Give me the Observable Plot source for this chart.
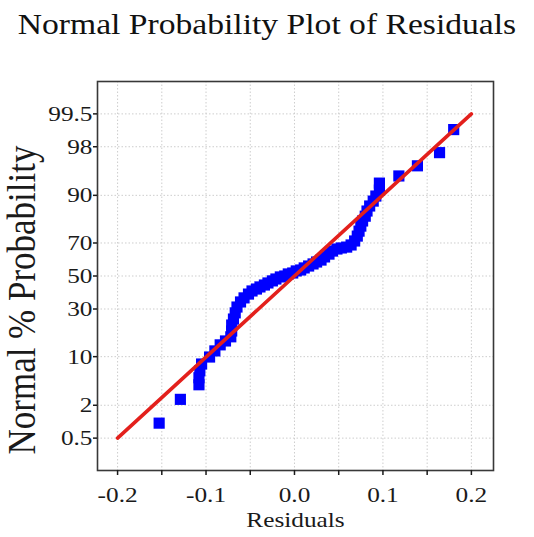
<!DOCTYPE html>
<html>
<head>
<meta charset="utf-8">
<script src="https://cdn.jsdelivr.net/npm/d3@7"></script>
<script src="https://cdn.jsdelivr.net/npm/@observablehq/plot@0.6"></script>
<style>
  html, body { margin: 0; padding: 0; background: #fff; }
  #wrap { width: 534px; height: 537px; overflow: hidden; }
  #title {
    height: 44px; line-height: 48px; white-space: nowrap;
    font-family: "Liberation Serif", serif; font-size: 30px; color: #111;
    text-align: center; transform: scaleX(1.12); transform-origin: 267px 0;
  }
</style>
</head>
<body>
<div id="wrap">
  <div id="title">Normal Probability Plot of Residuals</div>
  <div id="chart"></div>
</div>
<script>
// ---- data ----
const residuals = [-0.153, -0.129, -0.108, -0.108, -0.107, -0.105, -0.096, -0.090, -0.084, -0.078,
  -0.072, -0.071, -0.071, -0.069, -0.067, -0.065, -0.061, -0.057, -0.052, -0.048,
  -0.043, -0.039, -0.034, -0.030, -0.025, -0.021, -0.016, -0.011, -0.007, -0.002,
  0.002, 0.007, 0.011, 0.016, 0.021, 0.025, 0.030, 0.034, 0.039, 0.043,
  0.048, 0.053, 0.059, 0.064, 0.068, 0.071, 0.073, 0.075, 0.077, 0.080,
  0.082, 0.085, 0.089, 0.092, 0.096, 0.096, 0.118, 0.139, 0.164, 0.180];
const percents = [0.97, 2.5, 4.2, 5.3, 6.6, 8.1, 9.9, 11.7, 13.7, 15.1,
  16.7, 19.1, 21.8, 24.7, 27.9, 31.1, 34.0, 36.4, 38.7, 40.6,
  41.8, 43.1, 44.3, 45.6, 46.9, 48.1, 49.4, 50.0, 51.3, 51.9,
  53.2, 53.8, 55.1, 56.3, 57.6, 58.8, 60.0, 61.9, 63.6, 65.4,
  66.6, 67.2, 67.7, 68.9, 71.1, 73.7, 76.2, 78.6, 80.9, 82.9,
  84.9, 86.7, 88.3, 89.8, 91.4, 93.0, 94.4, 96.0, 97.5, 99.0];
const fitResiduals = [-0.2, 0.2];
const fitPercents = [0.5, 99.5];
const yTicks = [0.5, 2, 10, 30, 50, 70, 90, 98, 99.5];
const yDomainPct = [0.1, 99.9];
const xTicks = [-0.2, -0.1, 0.0, 0.1, 0.2];
const xMinorTicks = [-0.15, -0.05, 0.05, 0.15];
const xDomain = [-0.2227, 0.225];

// inverse normal CDF (Acklam) for the probability axis
function probit(p) {
  const a=[-3.969683028665376e+01,2.209460984245205e+02,-2.759285104469687e+02,1.383577518672690e+02,-3.066479806614716e+01,2.506628277459239e+00];
  const b=[-5.447609879822406e+01,1.615858368580409e+02,-1.556989798598866e+02,6.680131188771972e+01,-1.328068155288572e+01];
  const c=[-7.784894002430293e-03,-3.223964580411365e-01,-2.400758277161838e+00,-2.549732539343734e+00,4.374664141464968e+00,2.938163982698783e+00];
  const d=[7.784695709041462e-03,3.224671290700398e-01,2.445134137142996e+00,3.754408661907416e+00];
  const pl = 0.02425, ph = 1 - pl;
  let q, r;
  if (p < pl) { q = Math.sqrt(-2*Math.log(p)); return (((((c[0]*q+c[1])*q+c[2])*q+c[3])*q+c[4])*q+c[5])/((((d[0]*q+d[1])*q+d[2])*q+d[3])*q+1); }
  if (p <= ph) { q = p - 0.5; r = q*q; return (((((a[0]*r+a[1])*r+a[2])*r+a[3])*r+a[4])*r+a[5])*q/(((((b[0]*r+b[1])*r+b[2])*r+b[3])*r+b[4])*r+1); }
  q = Math.sqrt(-2*Math.log(1-p)); return -(((((c[0]*q+c[1])*q+c[2])*q+c[3])*q+c[4])*q+c[5])/((((d[0]*q+d[1])*q+d[2])*q+d[3])*q+1);
}
const z = pct => probit(pct / 100);

const points = residuals.map((r, i) => ({r, p: percents[i]}));
const fit = fitResiduals.map((r, i) => ({r, p: fitPercents[i]}));
const yTickZ = yTicks.map(z);
const yLabel = v => { const i = yTickZ.findIndex(t => Math.abs(t - v) < 1e-9); return i >= 0 ? String(yTicks[i]) : ""; };

const serif = "'Liberation Serif', 'Times New Roman', serif";

const chart = Plot.plot({
  width: 534,
  height: 493,
  marginTop: 37,
  marginBottom: 67,
  marginLeft: 97,
  marginRight: 41,
  style: {fontFamily: serif, color: "#1a1a1a", background: "#fff"},
  x: {domain: xDomain},
  y: {domain: yDomainPct.map(z)},
  marks: [
    Plot.gridX([...xTicks, ...xMinorTicks], {stroke: "#cdcdcd", strokeOpacity: 1, strokeDasharray: "1.5,2"}),
    Plot.gridY(yTickZ, {stroke: "#cdcdcd", strokeOpacity: 1, strokeDasharray: "1.5,2"}),
    Plot.dot(points, {x: "r", y: d => z(d.p), symbol: "square", r: 6.3, fill: "#0000ff", stroke: "none"}),
    Plot.line(fit, {x: "r", y: d => z(d.p), stroke: "#e3201c", strokeWidth: 3.6}),
    Plot.frame({stroke: "#383838", strokeWidth: 1.6}),
    Plot.axisY(yTickZ, {tickSize: 4, tickPadding: 1, tickFormat: yLabel, fontSize: 22, strokeWidth: 1.5, label: null}),
    Plot.axisX(xTicks, {tickSize: 5, tickPadding: 11, tickFormat: d => d.toFixed(1), fontSize: 22, strokeWidth: 1.5, label: null}),
    Plot.axisX(xMinorTicks, {tickSize: 5, tickFormat: () => "", strokeWidth: 1.5, label: null}),
    Plot.text(["Normal % Probability"], {frameAnchor: "left", rotate: -90, dx: -75, dy: 24, fontSize: 35, textAnchor: "middle", lineAnchor: "middle"}),
    Plot.text(["Residuals"], {frameAnchor: "bottom", dy: 41, fontSize: 22, textAnchor: "middle", lineAnchor: "top"})
  ]
});

// the reference's lettering is slightly widened horizontally: scale each text about its own anchor
chart.querySelectorAll("text").forEach(t => {
  const tr = t.getAttribute("transform") || "";
  const rot = /rotate/.test(tr);
  const xa = t.getAttribute("x");
  let pre = "";
  if (xa !== null && /^-?[\d.]+$/.test(xa.trim())) {
    pre = ` translate(${xa},0)`;
    t.removeAttribute("x");
  }
  t.setAttribute("transform", `${tr}${pre} ${rot ? "scale(1,1.12)" : "scale(1.15,1)"}`);
});

document.getElementById("chart").appendChild(chart);
</script>
</body>
</html>
